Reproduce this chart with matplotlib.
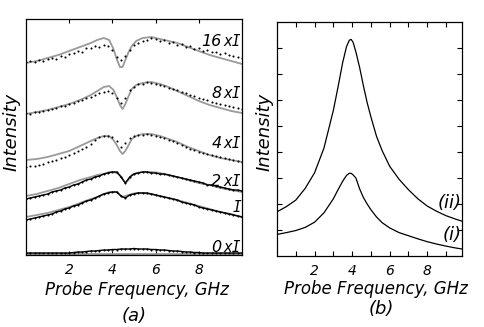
import matplotlib
matplotlib.use("Agg")
import matplotlib.pyplot as plt

# ---- panel (a): measured spectra (dots) and fits (grey), height in px-like units
x_dots = [i / 5 for i in range(51)]

dots_16 = [193, 194, 193, 195, 194, 196, 197, 196, 199, 198, 201, 202, 204, 203, 207, 207, 209, 208,
           210, 209, 205, 198, 195, 199, 205, 210, 212, 214, 215, 217, 216, 214, 215, 212, 213, 210,
           211, 208, 209, 206, 207, 204, 205, 203, 203, 201, 202, 200, 199, 198, 197]
dots_8 = [142, 141, 143, 143, 144, 145, 146, 147, 149, 149, 151, 152, 154, 155, 157, 158, 160, 162,
          163, 164, 162, 157, 152, 157, 165, 168, 171, 171, 173, 172, 171, 170, 169, 167, 166, 165,
          163, 162, 160, 159, 157, 156, 155, 153, 152, 151, 150, 149, 148, 147, 146]
dots_4 = [88, 89, 89, 90, 91, 93, 94, 95, 97, 98, 100, 102, 104, 106, 108, 111, 115, 118, 119, 119,
          118, 114, 108, 112, 117, 119, 120, 120, 121, 120, 119, 118, 117, 115, 114, 112, 110, 108,
          106, 105, 103, 102, 101, 100, 99, 98, 97, 96, 95, 94, 93]
dots_2 = [56, 57, 58, 59, 60, 61, 63, 64, 65, 67, 68, 70, 71, 73, 75, 76, 78, 79, 81, 82, 83, 83,
          78, 72, 78, 81, 82, 83, 83, 82, 82, 81, 81, 80, 79, 78, 77, 76, 75, 74, 73, 72, 70, 70, 69,
          68, 67, 66, 65, 65, 64]
dots_1 = [35, 36, 37, 38, 39, 40, 41, 43, 44, 46, 47, 49, 50, 52, 54, 55, 57, 59, 61, 62, 63, 63,
          59, 57, 60, 61, 62, 62, 62, 61, 60, 59, 58, 57, 56, 55, 53, 52, 51, 50, 48, 47, 46, 45, 44,
          43, 42, 41, 40, 39, 38]
dots_0 = [2, 2, 2, 2, 2, 2, 2, 2, 2, 2, 2, 2.5, 3, 3, 3.5, 4, 4, 4.5, 5, 5, 5.5, 5.5, 6, 6, 6, 6.5,
          6, 6, 6, 5.5, 5.5, 5, 5, 4.5, 4, 4, 3.5, 3, 3, 2.5, 2.5, 2, 2, 2, 2, 2, 2, 2, 2, 2, 2]

x_fit = [0, 0.5, 1, 1.5, 2, 2.5, 3, 3.3, 3.6, 3.85, 4.05, 4.2, 4.35, 4.47, 4.6, 4.75, 4.9, 5.1,
         5.4, 5.8, 6.2, 6.6, 7, 7.5, 8, 8.5, 9, 9.5, 10]
fit_16 = [192, 194, 197, 200, 204, 208, 212, 215, 217, 215, 206, 196, 188, 188, 195, 203, 209, 214,
          217, 218, 216, 214, 212, 208, 204, 200, 197, 194, 191]
fit_8 = [141, 143, 145, 148, 151, 155, 160, 164, 168, 169, 165, 158, 150, 146, 151, 159, 166, 170,
         172, 173, 171, 168, 164, 159, 154, 150, 147, 144, 142]
fit_4 = [95, 96, 98, 101, 104, 109, 114, 117, 119, 119, 115, 110, 104, 101, 104, 110, 116, 119,
         121, 121, 119, 116, 113, 108, 104, 100, 97, 95, 93]
fit_2 = [59, 61, 64, 67, 71, 75, 78, 80, 81, 83, 83, 82, 80, 76, 72, 75, 80, 82, 83, 83, 82, 80,
         78, 75, 72, 70, 67, 65, 63]
fit_1 = [38, 40, 42, 45, 48, 52, 56, 58, 61, 63, 63, 63, 60, 58, 59, 60, 61, 62, 62, 61, 59, 57,
         55, 52, 49, 46, 43, 41, 38]
fit_0 = [1] * len(x_fit)

curve_labels = ["16 x I", "8 x I", "4 x I", "2 x I", "I", "0 x I"]
label_heights = [213, 162, 111, 73, 47, 8]

# ---- panel (b): calculated spectra
x_b = [0, 0.5, 1, 1.5, 2, 2.5, 3, 3.25, 3.5, 3.7, 3.85, 3.95, 4.05, 4.2, 4.4, 4.6, 4.8, 5.0,
       5.3, 5.6, 6.0, 6.5, 7, 7.5, 8, 8.5, 9, 9.5, 9.85]
curve_ii = [1.70, 1.90, 2.15, 2.60, 3.20, 4.15, 5.60, 6.50, 7.45, 8.05, 8.30, 8.33, 8.22, 7.85,
            7.25, 6.55, 5.90, 5.35, 4.60, 4.05, 3.45, 2.95, 2.55, 2.20, 1.92, 1.72, 1.55, 1.42, 1.34]
curve_i = [0.83, 0.90, 0.98, 1.10, 1.30, 1.66, 2.20, 2.55, 2.88, 3.10, 3.18, 3.18, 3.12, 3.00,
           2.58, 2.25, 2.00, 1.78, 1.50, 1.28, 1.08, 0.90, 0.78, 0.66, 0.55, 0.46, 0.38, 0.31, 0.27]

grey = "#9a9a9a"
lab_font = dict(family="DejaVu Sans", style="italic")

fig = plt.figure(figsize=(4.85, 3.27), dpi=100)
ax1 = fig.add_axes([26 / 485, 72 / 327, 216 / 485, 236 / 327])
ax2 = fig.add_axes([277 / 485, 71 / 327, 185 / 485, 234 / 327])

fits = [fit_16, fit_8, fit_4, fit_2, fit_1, fit_0]
dots = [dots_16, dots_8, dots_4, dots_2, dots_1, dots_0]
for k, (f, d) in enumerate(zip(fits, dots)):
    ax1.plot(x_fit, f, color=grey, lw=1.3 if k < 5 else 2.0, zorder=2)
    if k >= 3:
        ax1.plot(x_dots, d, color="black", lw=1.0, zorder=3)
    ax1.plot(x_dots, d, ls="none", marker="o", ms=1.5, color="black", mew=0, zorder=4)

# "16 x I" etc.: number part in sans, "xI" in a mono face, drawn as two pieces
for name, h in zip(curve_labels, label_heights):
    parts = name.split(" ", 1)
    if len(parts) == 2:
        ax1.text(9.95, h, parts[1].replace(" ", ""), ha="right", va="center",
                 family="DejaVu Sans Mono", style="italic", fontsize=10.5)
        ax1.annotate(parts[0], (9.95, h), xytext=(-14, 0), textcoords="offset points",
                     ha="right", va="center", fontsize=11.5, **lab_font)
    else:
        ax1.text(9.95, h, name, ha="right", va="center", family="DejaVu Sans Mono",
                 style="italic", fontsize=10.5)

ax1.set_xlim(0, 10)
ax1.set_ylim(0, 236)
ax1.set_xticks([2, 4, 6, 8])
ax1.set_yticks([])
ax1.tick_params(axis="x", direction="in", top=True, length=3, width=0.8, pad=6, labelsize=10)

ax2.plot(x_b, curve_ii, color="black", lw=0.9)
ax2.plot(x_b, curve_i, color="black", lw=0.9)
ax2.text(9.85, 2.05, "(ii)", ha="right", va="center", fontsize=13, **lab_font)
ax2.text(9.85, 0.82, "(i)", ha="right", va="center", fontsize=13, **lab_font)
ax2.set_xlim(0, 9.85)
ax2.set_ylim(0, 9)
ax2.set_xticks(range(1, 10))
ax2.set_xticklabels(["", "2", "", "4", "", "6", "", "8", ""])
ax2.set_yticks(range(1, 9))
ax2.set_yticklabels([])
ax2.tick_params(direction="in", top=True, right=True, length=3.6, width=0.8, pad=6, labelsize=10)

for ax in (ax1, ax2):
    for s in ax.spines.values():
        s.set_linewidth(0.9)
    for t in ax.get_xticklabels():
        t.set_fontstyle("italic")

fig.text(137 / 485, 1 - 290 / 327, "Probe Frequency, GHz", ha="center", va="center",
         fontsize=12, **lab_font)
fig.text(376 / 485, 1 - 289 / 327, "Probe Frequency, GHz", ha="center", va="center",
         fontsize=12, **lab_font)
fig.text(12 / 485, 1 - 132 / 327, "Intensity", rotation=90, ha="center", va="center",
         fontsize=13, **lab_font)
fig.text(265 / 485, 1 - 132 / 327, "Intensity", rotation=90, ha="center", va="center",
         fontsize=13, **lab_font)
fig.text(134 / 485, 1 - 316 / 327, "(a)", ha="center", va="center", fontsize=13, **lab_font)
fig.text(381 / 485, 1 - 309 / 327, "(b)", ha="center", va="center", fontsize=13, **lab_font)

fig.savefig("out.png", dpi=100)
